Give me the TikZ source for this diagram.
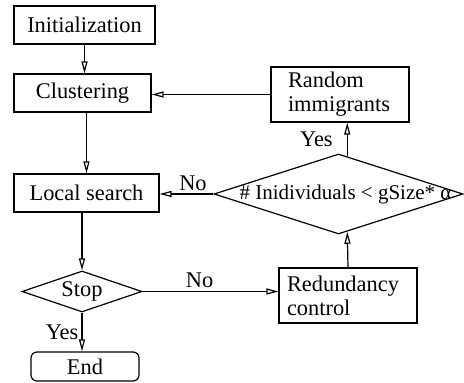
\documentclass[tikz,border=0pt]{standalone}
\usepackage{fontspec}
\setmainfont{Liberation Serif}
\usetikzlibrary{arrows.meta, shapes.geometric, calc}

\tikzset{
  box/.style={draw, line width=0.6pt, minimum height=19pt, inner sep=0pt},
  decision/.style={draw, diamond, aspect=3, inner sep=0pt, line width=0.6pt},
  flowarrow/.style={line width=0.6pt, -{Triangle[open, length=6pt, width=3pt]}},
  flowlabel/.style={inner sep=1.5pt}
}

\begin{document}
\begin{tikzpicture}[x=0.5pt, y=-0.5pt, font=\fontsize{11.2}{12}\selectfont]
  \useasboundingbox (0,0) rectangle (464,383);

  % left column
  \node[box, minimum width=70.5pt] (init) at (84.5,25) {Initialization};
  \node[box, minimum width=68.5pt] (clus) at (82.5,93) {Clustering};
  \node[box, minimum width=72.5pt] (local) at (86.5,193) {Local search};
  \node[decision, minimum width=60pt, minimum height=20.5pt] (stop) at (82,291.5) {Stop};
  \node[box, rounded corners=3pt, minimum width=54pt, minimum height=14.5pt] (end) at (85,366.5) {End};

  % right column
  \node[box, align=left, text width=52pt, inner xsep=8.5pt, minimum height=27.5pt] (rand) at (340,94.5) {Random\\immigrants};
  \node[decision, minimum width=124.5pt, minimum height=40pt] (cond) at (338.5,194)
    {\makebox[0pt]{\hspace*{7pt}\fontsize{10.5}{12}\selectfont\# Inidividuals < gSize* α}};
  \node[box, align=left, text width=61pt, inner xsep=4pt, minimum height=27.5pt] (redund) at (348,295.5) {Redundancy\\control};

  \coordinate (cond in) at ($(cond.south)!0.07!(cond.east)$);
  \coordinate (cond out) at ($(cond.north)!0.07!(cond.east)$);

  % connectors
  \draw[flowarrow] (init.south) -- (init.south |- clus.north);
  \draw[flowarrow] (local.north |- clus.south) -- (local.north);
  \draw[flowarrow] (local.south -| stop.north) -- (stop.north);
  \draw[flowarrow] (stop.south) -- (stop.south |- end.north) node[midway, left, flowlabel] {Yes};
  \draw[flowarrow] (stop.east) -- (stop.east -| redund.west) node[pos=0.42, above, flowlabel] {No};
  \draw[flowarrow] (redund.north) -- (cond in);
  \draw[flowarrow] (cond out) -- (cond out |- rand.south) node[midway, left, inner sep=7pt] {Yes};
  \draw[flowarrow] (cond.west) -- (cond.west -| local.east) node[pos=0.38, above, flowlabel] {No};
  \draw[flowarrow] (rand.west) -- (rand.west -| clus.east);
\end{tikzpicture}
\end{document}
